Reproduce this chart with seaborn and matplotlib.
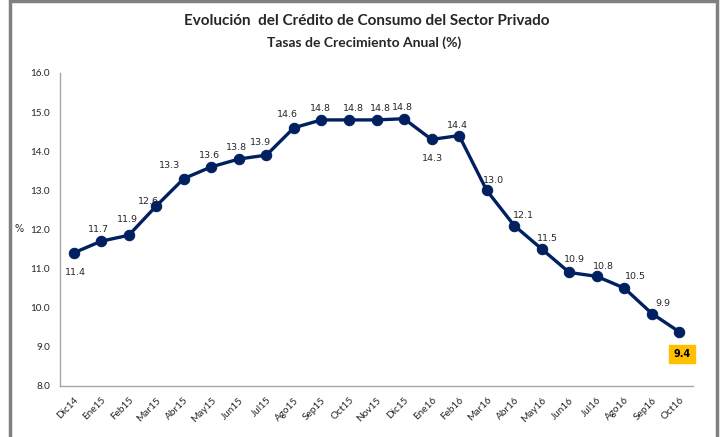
import numpy as np
import matplotlib
matplotlib.use("Agg")
import matplotlib.pyplot as plt
import seaborn as sns
import pandas as pd
from matplotlib.patches import Rectangle

# datos
meses = ["Dic14", "Ene15", "Feb15", "Mar15", "Abr15", "May15", "Jun15", "Jul15",
         "Ago15", "Sep15", "Oct15", "Nov15", "Dic15", "Ene16", "Feb16", "Mar16",
         "Abr16", "May16", "Jun16", "Jul16", "Ago16", "Sep16", "Oct16"]
tasas = [11.4, 11.7, 11.85, 12.6, 13.3, 13.6, 13.8, 13.9, 14.6, 14.8, 14.8, 14.8,
         14.83, 14.3, 14.4, 13.0, 12.1, 11.5, 10.9, 10.8, 10.5, 9.85, 9.38]
etiquetas = ["11.4", "11.7", "11.9", "12.6", "13.3", "13.6", "13.8", "13.9", "14.6",
             "14.8", "14.8", "14.8", "14.8", "14.3", "14.4", "13.0", "12.1", "11.5",
             "10.9", "10.8", "10.5", "9.9", "9.4"]
yticks = [8.0, 9.0, 10.0, 11.0, 12.0, 13.0, 14.0, 15.0, 16.0]

# desplazamiento de etiquetas (puntos)
desp = [(1, -17), (-2, 5), (-1, 8), (-6, 0), (-10, 6), (-1, 5), (-2, 5), (-4, 6),
        (-5, 6), (-1, 5), (3, 5), (3, 5), (-1, 5), (1, -17), (-1, 4), (5, 4),
        (7, 4), (4, 4), (4, 6), (5, 4), (8, 5), (8, 4), (0, 0)]

df = pd.DataFrame({"idx": np.arange(len(meses)), "tasa": tasas})

sns.set_style("white")
plt.rcParams["font.family"] = ["DejaVu Sans"]

fig = plt.figure(figsize=(7.22, 4.37), dpi=100)
ax = fig.add_axes([0.083, 0.117, 0.877, 0.716])

navy = "#002060"
sns.lineplot(data=df, x="idx", y="tasa", ax=ax, color=navy, linewidth=2.4,
             marker="o", markersize=7.5, markeredgecolor=navy, markerfacecolor=navy)

for i, (v, t, d) in enumerate(zip(tasas, etiquetas, desp)):
    if i == len(tasas) - 1:
        ax.annotate(t, (i, v), xytext=(2, -16), textcoords="offset points",
                    ha="center", va="center", fontsize=7, fontweight="bold",
                    color="black",
                    bbox=dict(boxstyle="square,pad=0.45", fc="#FFC000", ec="#FFC000"))
    else:
        ax.annotate(t, (i, v), xytext=d, textcoords="offset points",
                    ha="center", va="bottom", fontsize=6.8, color="#262626")

ax.set_xlim(-0.5, len(meses) - 0.5)
ax.set_ylim(8, 16)
ax.set_yticks(yticks)
ax.set_yticklabels([f"{y:.1f}" for y in yticks], fontsize=7.2,
                   family=["Lato", "DejaVu Sans"])
ax.set_xticks(np.arange(len(meses)))
ax.set_xticklabels(meses, rotation=45, ha="right", rotation_mode="anchor",
                   fontsize=7.2, family=["Lato", "DejaVu Sans"])
ax.set_xticks(np.arange(-0.5, len(meses), 1), minor=True)
ax.tick_params(axis="x", which="major", length=0, pad=7)
ax.tick_params(axis="x", which="minor", length=4, color="#A6A6A6", direction="out")
ax.tick_params(axis="y", length=4, color="#A6A6A6", direction="out", pad=3)
ax.set_xlabel("")
ax.set_ylabel("%", rotation=0, fontsize=7, labelpad=12, va="center")
ax.yaxis.set_label_coords(-0.065, 0.5)

for s in ["top", "right"]:
    ax.spines[s].set_visible(False)
for s in ["left", "bottom"]:
    ax.spines[s].set_color("#A6A6A6")
    ax.spines[s].set_linewidth(1)

fig.text(0.508, 0.953, "Evolución  del Crédito de Consumo del Sector Privado",
         ha="center", va="center", fontsize=11, fontweight="bold",
         family=["Lato", "DejaVu Sans"])
fig.text(0.505, 0.903, "Tasas de Crecimiento Anual (%)", ha="center", va="center",
         fontsize=10, fontweight="bold", family=["Lato", "DejaVu Sans"])

# marco gris
fig.add_artist(Rectangle((0.0145, -0.05), 0.979, 1.047, transform=fig.transFigure,
                         fill=False, ec="#808080", lw=2.5))

plt.savefig("out.png", dpi=100)
